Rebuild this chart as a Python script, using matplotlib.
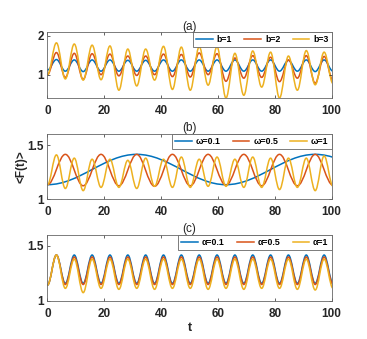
import numpy as np
import matplotlib
matplotlib.use("Agg")
import matplotlib.pyplot as plt
from matplotlib.path import Path
from matplotlib.patches import PathPatch
from matplotlib.lines import Line2D

plt.rcParams["font.family"] = ["Liberation Sans", "DejaVu Sans"]

# extrema: troughs at t = 2k*pi/w, peaks at t = (2k+1)*pi/w
# (a) different b, w = 1
a_omega = 1.0
a_labels = ["b=1", "b=2", "b=3"]
a_troughs = [
    [1.12, 1.09, 1.08, 1.09, 1.09, 1.09, 1.09, 1.09, 1.09, 1.09, 1.09, 1.09, 1.09, 1.09, 1.09, 1.08, 1.09],
    [1.00, 0.93, 0.88, 1.00, 0.97, 0.98, 1.00, 0.95, 0.94, 1.00, 0.83, 0.91, 0.93, 0.82, 0.91, 0.78, 0.85],
    [1.00, 0.89, 0.86, 0.87, 0.60, 0.71, 0.86, 0.62, 0.60, 0.73, 0.40, 0.47, 0.68, 0.40, 0.60, 0.74, 0.77],
]
a_peaks = [
    [1.39, 1.38, 1.38, 1.38, 1.37, 1.37, 1.38, 1.38, 1.38, 1.38, 1.38, 1.38, 1.38, 1.37, 1.38, 1.38],
    [1.57, 1.55, 1.54, 1.53, 1.48, 1.48, 1.53, 1.52, 1.56, 1.54, 1.43, 1.49, 1.45, 1.38, 1.49, 1.47],
    [1.82, 1.79, 1.76, 1.74, 1.66, 1.66, 1.73, 1.71, 1.72, 1.72, 1.55, 1.61, 1.58, 1.48, 1.62, 1.58],
]

# (b) different omega
b_omegas = [0.1, 0.5, 1.0]
b_labels = ["\u03c9=0.1", "\u03c9=0.5", "\u03c9=1"]
b_troughs = [
    [1.135, 1.135, 1.135],
    [1.135, 1.125, 1.125, 1.12, 1.125, 1.13, 1.125, 1.125, 1.13],
    [1.135, 1.10, 1.08, 1.11, 1.11, 1.10, 1.12, 1.11, 1.11, 1.12, 1.12, 1.11, 1.11, 1.09, 1.11, 1.08, 1.12],
]
b_peaks = [
    [1.415, 1.415],
    [1.415, 1.415, 1.415, 1.415, 1.415, 1.415, 1.415, 1.415],
    [1.41, 1.38, 1.37, 1.37, 1.36, 1.38, 1.37, 1.39, 1.37, 1.39, 1.37, 1.39, 1.38, 1.38, 1.38, 1.40],
]

# (c) different alpha, w = 1
c_omega = 1.0
c_labels = ["\u03b1=0.1", "\u03b1=0.5", "\u03b1=1"]
c_troughs = [
    [1.145] + [1.16] * 16,
    [1.145] + [1.15] * 16,
    [1.145, 1.115, 1.076, 1.115, 1.106, 1.115, 1.106, 1.115, 1.115, 1.106, 1.115, 1.106, 1.115, 1.115, 1.106, 1.10, 1.115],
]
c_peaks = [
    [1.418] * 16,
    [1.418] + [1.40] * 15,
    [1.418] + [1.38] * 15,
]

COLORS = ["#0072BD", "#D95319", "#EDB120"]
K = 1 - 2 / np.pi  # bezier handle fraction giving a cosine-like swing


def swing_path(troughs, peaks, omega):
    v = np.empty(len(troughs) + len(peaks))
    v[0::2] = troughs
    v[1::2] = peaks
    t = np.arange(len(v)) * np.pi / omega
    verts, codes = [(t[0], v[0])], [Path.MOVETO]
    for i in range(len(t) - 1):
        d = t[i + 1] - t[i]
        verts += [(t[i] + K * d, v[i]), (t[i + 1] - K * d, v[i + 1]), (t[i + 1], v[i + 1])]
        codes += [Path.CURVE4] * 3
    return Path(verts, codes)


def panel(ax, troughs, peaks, omegas, labels, title, ylim, yticks, tpad):
    for tr, pk, w, c in zip(troughs, peaks, omegas, COLORS):
        ax.add_patch(PathPatch(swing_path(tr, pk, w), fill=False, edgecolor=c, lw=1.1))
    ax.set_xlim(0, 100)
    ax.set_ylim(*ylim)
    ax.set_xticks(range(0, 101, 20))
    ax.set_yticks(yticks)
    ax.set_yticklabels([f"{y:g}" for y in yticks])
    ax.tick_params(direction="in", length=2.5, width=0.5, top=True, right=True,
                   labelsize=8.5, colors="0.15")
    ax.tick_params(axis="x", pad=5)
    ax.tick_params(axis="y", pad=2.5)
    for lab in ax.get_xticklabels() + ax.get_yticklabels():
        lab.set_fontweight("bold")
    for s in ax.spines.values():
        s.set_color("0.4")
        s.set_linewidth(0.6)
    ax.set_title(title, fontsize=8.5, pad=tpad, color="0.15")
    handles = [Line2D([], [], color=c, lw=1.1) for c in COLORS]
    leg = ax.legend(handles, labels, loc="upper right", ncol=3, borderaxespad=0,
                    fancybox=False, prop={"weight": "bold", "size": 6.3},
                    handlelength=1.9, handletextpad=0.45, columnspacing=1.4,
                    borderpad=0.35, framealpha=1)
    leg.get_frame().set_edgecolor("0.4")
    leg.get_frame().set_linewidth(0.6)


fig = plt.figure(figsize=(3.67, 3.39), dpi=100)
left, width = 0.1294, 0.774
ax_a = fig.add_axes([left, 0.711, width, 0.1947])
ax_b = fig.add_axes([left, 0.4121, width, 0.1917])
ax_c = fig.add_axes([left, 0.1121, width, 0.1947])

panel(ax_a, a_troughs, a_peaks, [a_omega] * 3, a_labels, "(a)", (0.4, 2.1), [1, 2], 1.5)
panel(ax_b, b_troughs, b_peaks, b_omegas, b_labels, "(b)", (1.0, 1.6), [1, 1.5], 2.5)
panel(ax_c, c_troughs, c_peaks, [c_omega] * 3, c_labels, "(c)", (1.0, 1.6), [1, 1.5], 2.0)

ax_b.set_ylabel("<F(t)>", fontsize=8.5, fontweight="bold", va="center", color="0.15")
ax_b.yaxis.set_label_coords(-0.09, 0.5)
ax_c.set_xlabel("t", fontsize=9, fontweight="bold", va="center", color="0.15")
ax_c.xaxis.set_label_coords(0.5, -0.41)

fig.savefig("out.png", dpi=100)
